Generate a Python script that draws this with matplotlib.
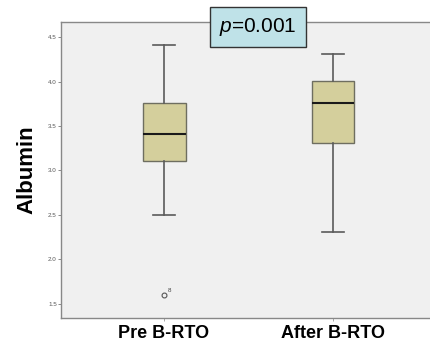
import matplotlib
matplotlib.use('Agg')
import matplotlib.pyplot as plt

# values
groups = ['Pre B-RTO', 'After B-RTO']
whisker_low = [2.50, 2.31]
q1 = [3.11, 3.31]
median = [3.41, 3.76]
q3 = [3.76, 4.01]
whisker_high = [4.41, 4.31]
outliers = [[1.60], []]
outlier_ids = [['8'], []]
y_ticks = [1.5, 2.0, 2.5, 3.0, 3.5, 4.0, 4.5]
p_text = r'$\it{p}$=0.001'

plt.rcParams['font.family'] = ['Liberation Sans', 'DejaVu Sans']
plt.rcParams['mathtext.fontset'] = 'custom'
plt.rcParams['mathtext.it'] = 'Liberation Sans:italic'
plt.rcParams['mathtext.rm'] = 'Liberation Sans'

fig = plt.figure(figsize=(4.31, 3.45), dpi=100)
ax = fig.add_axes([0.1415, 0.0783, 0.8585, 0.8577])
ax.set_facecolor('#f0f0f0')

stats = []
for i, g in enumerate(groups):
    stats.append({'label': g, 'whislo': whisker_low[i], 'q1': q1[i], 'med': median[i],
                  'q3': q3[i], 'whishi': whisker_high[i], 'fliers': outliers[i]})

positions = [1, 2]
ax.bxp(stats, positions=positions, widths=0.254, patch_artist=True,
       boxprops=dict(facecolor='#d4cf9c', edgecolor='#6e6e60', linewidth=1.0),
       medianprops=dict(color='#1a1a1a', linewidth=1.5),
       whiskerprops=dict(color='#5a5a5a', linewidth=1.2),
       capprops=dict(color='#5a5a5a', linewidth=1.2),
       flierprops=dict(marker='o', markersize=3.5, markerfacecolor='none',
                       markeredgecolor='#555555', markeredgewidth=0.8))

for pos, vals, ids in zip(positions, outliers, outlier_ids):
    for v, lab in zip(vals, ids):
        ax.annotate(lab, (pos, v), xytext=(3, 2), textcoords='offset points',
                    fontsize=4.5, color='#444444')

ax.set_xlim(0.39, 2.58)
ax.set_ylim(1.34, 4.67)
ax.set_yticks(y_ticks)
ax.set_yticklabels([f'{t:.1f}' for t in y_ticks], fontsize=4.5, color='#555555')
ax.set_xticks(positions)
ax.set_xticklabels(groups, fontsize=13, fontweight='bold')
ax.tick_params(axis='y', length=2, width=0.6, color='#777777', pad=1)
ax.tick_params(axis='x', length=2, width=0.6, color='#999999', pad=3)
ax.set_ylabel('Albumin', fontsize=16, fontweight='bold', labelpad=8)

for side in ['left', 'bottom', 'top']:
    ax.spines[side].set_color('#888888')
    ax.spines[side].set_linewidth(1.0)
ax.spines['right'].set_visible(False)

fig.text(0.599, 0.922, p_text, fontsize=15, ha='center', va='center', zorder=10,
         bbox=dict(boxstyle='square,pad=0.45', facecolor='#bfe2e8',
                   edgecolor='#333333', linewidth=1.0))

fig.savefig('out.png', dpi=100)
